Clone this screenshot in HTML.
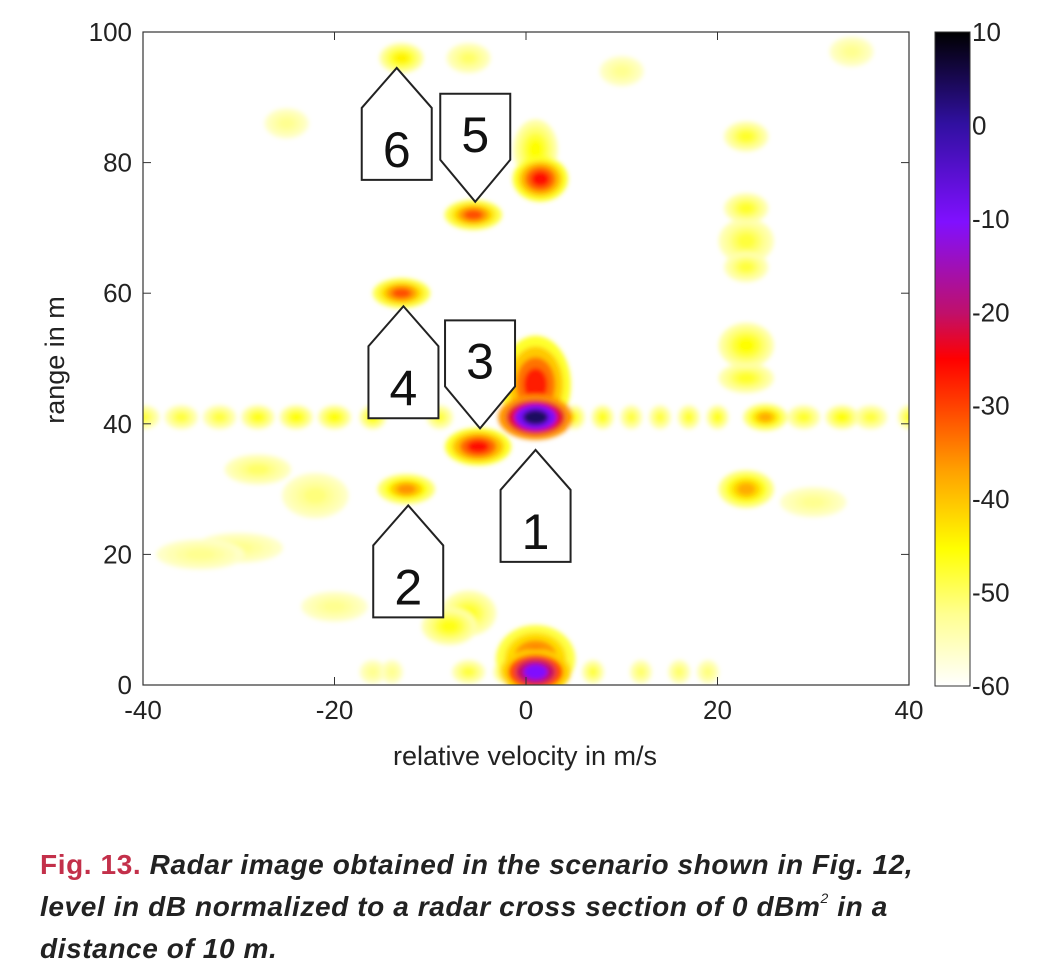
<!DOCTYPE html>
<html><head><meta charset="utf-8"><style>
body{margin:0;background:#fff;width:1045px;height:980px;overflow:hidden;font-family:"Liberation Sans",sans-serif}
svg text{font-family:"Liberation Sans",sans-serif}
.cap{position:absolute;left:40px;top:844px;font-size:28px;letter-spacing:0.6px;line-height:42px;font-weight:bold;font-style:italic;color:#222;white-space:nowrap}
.cap b{color:#c3304a;font-style:normal}
.cap sup{font-size:14px;font-weight:normal;line-height:0;vertical-align:baseline;position:relative;top:-13px}
</style></head><body>
<svg id="chart" width="1045" height="840" style="position:absolute;left:0;top:0">
<defs>
<linearGradient id="cmap" x1="0" y1="1" x2="0" y2="0">
<stop offset="0" stop-color="#ffffff"/><stop offset="0.11" stop-color="#ffff90"/><stop offset="0.21" stop-color="#ffff00"/>
<stop offset="0.33" stop-color="#ffa000"/><stop offset="0.43" stop-color="#ff4000"/><stop offset="0.5" stop-color="#ff0000"/>
<stop offset="0.57" stop-color="#c0106a"/><stop offset="0.71" stop-color="#8010ff"/><stop offset="0.86" stop-color="#3010a0"/><stop offset="1" stop-color="#000000"/>
</linearGradient>
<filter id="soft"><feGaussianBlur stdDeviation="2.5"/></filter>
<clipPath id="pc"><rect x="143" y="32" width="766" height="653"/></clipPath>
</defs>
<g id="blobs" clip-path="url(#pc)" filter="url(#soft)"></g>
<rect x="143" y="32" width="766" height="653" fill="none" stroke="#333" stroke-width="1.2"/>
<g id="axes"></g>
<rect x="935" y="32" width="35" height="654" fill="url(#cmap)" stroke="#333"/>
<text x="525" y="765" font-size="27" text-anchor="middle" fill="#222">relative velocity in m/s</text>
<text transform="translate(64,360) rotate(-90)" font-size="27" text-anchor="middle" fill="#222">range in m</text>
<g id="ann" fill="#fff" stroke="#222" stroke-width="2" font-size="50"></g>
</svg>
<div class="cap"><b>Fig. 13.</b> Radar image obtained in the scenario shown in Fig. 12,<br>level in dB normalized to a radar cross section of 0 dBm<sup>2</sup> in a<br>distance of 10 m.</div>
<script>
const xTicks=[-40,-20,0,20,40];
const yTicks=[0,20,40,60,80,100];
const cTicks=[10,0,-10,-20,-30,-40,-50,-60];
// blobs: velocity, range, level dB, velocity radius, range radius
const blobV=[1,1,1,1,-5,-12.5,-13,-5.5,1.5,1,-13,-6,23,23,23,23,23,23,23,25,-40,-36,-32,-28,-24,-20,-16,-9,-1,5,8,11,14,17,20,29,33,36,40,-28,-22,-8,-6,-30,-20,-25,10,30,34,-34,-6,-2,3,7,12,16,19,-16,-14];
const blobR=[46,41,2,4,36.5,30,60,72,77.5,82,96,96,84,73,68,52,47,64,30,41,41,41,41,41,41,41,41,41,41,41,41,41,41,41,41,41,41,41,41,33,29,9,11,21,12,86,94,28,97,20,2,2,2,2,2,2,2,2,2];
const blobL=[-27,4,-10,-30,-26,-36,-31,-31,-26,-45,-44,-50,-47,-47,-48,-45,-47,-48,-38,-38,-48,-48,-48,-46,-45,-45,-45,-48,-42,-46,-46,-48,-48,-47,-46,-47,-45,-48,-47,-50,-51,-46,-47,-52,-52,-52,-52,-52,-52,-52,-48,-45,-45,-48,-50,-50,-51,-52,-52];
const blobRV=[3.2,3.4,3.2,3.6,3,2.6,2.6,2.6,2.5,2,2,2,2,2,2.5,2.5,2.5,2,2.5,2,1.5,1.5,1.5,1.5,1.5,1.5,1.2,1.2,1.5,1,1,1,1,1,1,1.5,1.5,1.5,1,3,3,2.5,2.5,4,3,2,2,3,2,4,1.5,1.2,1.2,1,1,1,1,1.2,1];
const blobRR=[6.5,3,3,4.5,2.5,2,2,2,3,4,2,2,2,2,3,3,2,2,2.5,1.8,1.6,1.6,1.6,1.6,1.6,1.6,1.6,1.6,1.6,1.6,1.6,1.6,1.6,1.6,1.6,1.6,1.6,1.6,1.6,2,3,2.5,3,2,2,2,2,2,2,2,1.6,1.6,1.6,1.6,1.6,1.6,1.6,1.6,1.6];
const annLabels=["1","2","3","4","5","6"];
const annV=[1,-12.3,-4.8,-12.8,-5.3,-13.5];
const annR=[36,27.5,39.3,58,74,94.5];
const annUp=[true,true,false,true,false,true];
const sx=v=>143+(v+40)*766/80, sy=r=>685-r*653/100, cy=d=>686-(d+60)*654/70;
const NS="http://www.w3.org/2000/svg";
function mk(t,a,p){const e=document.createElementNS(NS,t);for(const k in a)e.setAttribute(k,a[k]);p.appendChild(e);return e;}
const stops=[[-60,[255,255,255]],[-52,[255,255,144]],[-45,[255,255,0]],[-37,[255,160,0]],[-30,[255,64,0]],[-25,[255,0,0]],[-20,[192,16,106]],[-10,[128,16,255]],[0,[48,16,160]],[10,[0,0,0]]];
function col(d){for(let i=1;i<stops.length;i++){if(d<=stops[i][0]){const a=stops[i-1],b=stops[i],t=(d-a[0])/(b[0]-a[0]);return 'rgb('+a[1].map((c,j)=>Math.round(c+(b[1][j]-c)*t)).join(',')+')';}}return '#000';}
const g=document.getElementById('blobs');
const order=blobL.map((l,i)=>i).sort((a,b)=>blobL[a]-blobL[b]);
order.forEach(i=>{
 const rx=blobRV[i]*766/80, ry=blobRR[i]*653/100;
 for(let k=0;k<4;k++){const f=1-k*0.22;const lv=-58+(blobL[i]+58)*(0.35+0.65*k/3);
  const e=mk('ellipse',{cx:sx(blobV[i]),cy:sy(blobR[i]),rx:rx*f*1.15,ry:ry*f*1.15,fill:col(lv)},g);
  
  }
});
const ax=document.getElementById('axes');
xTicks.forEach(v=>{const x=sx(v);
 mk('line',{x1:x,x2:x,y1:685,y2:677,stroke:'#333'},ax);mk('line',{x1:x,x2:x,y1:32,y2:40,stroke:'#333'},ax);
 const t=mk('text',{x:x,y:719,'font-size':26,'text-anchor':'middle',fill:'#222'},ax);t.textContent=v;
 
 });
yTicks.forEach(r=>{const y=sy(r);
 mk('line',{x1:143,x2:151,y1:y,y2:y,stroke:'#333'},ax);mk('line',{x1:909,x2:901,y1:y,y2:y,stroke:'#333'},ax);
 const t=mk('text',{x:132,y:y+9,'font-size':26,'text-anchor':'end',fill:'#222'},ax);t.textContent=r;
 
 });
cTicks.forEach(d=>{const y=cy(d);
 if(d>-60&&d<10){mk('line',{x1:935,x2:941,y1:y,y2:y,stroke:'#333'},ax);mk('line',{x1:970,x2:964,y1:y,y2:y,stroke:'#333'},ax);}
 const t=mk('text',{x:972,y:y+9,'font-size':26,fill:'#222'},ax);t.textContent=d;
 
 });
const an=document.getElementById('ann');
annLabels.forEach((l,i)=>{const x=sx(annV[i]),y=sy(annR[i]),w=35;let pts,ty;
 if(annUp[i]){pts=[[x,y],[x+w,y+40],[x+w,y+112],[x-w,y+112],[x-w,y+40]];ty=y+99;}
 else{pts=[[x,y],[x+w,y-42],[x+w,y-108],[x-w,y-108],[x-w,y-42]];ty=y-50;}
 const p=mk('polygon',{points:pts.map(q=>q.join(',')).join(' ')},an);
 
 
 const t=mk('text',{x:x,y:ty,'text-anchor':'middle',fill:'#111',stroke:'none'},an);t.textContent=l;
 
 });
</script>
</body></html>
